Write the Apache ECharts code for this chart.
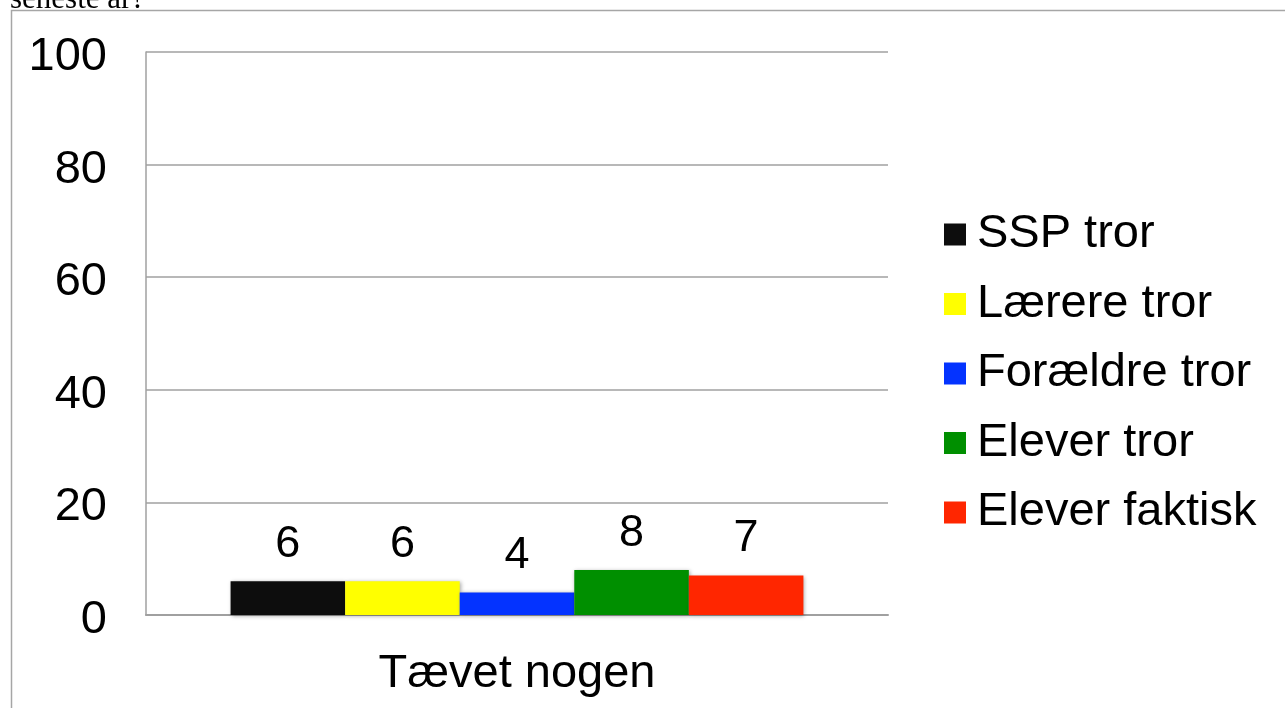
<!DOCTYPE html>
<html><head><meta charset="utf-8">
<script src="https://cdn.jsdelivr.net/npm/echarts@6/dist/echarts.min.js"></script>
<style>html,body{margin:0;padding:0;background:#fff;}#c{width:1285px;height:708px;}</style>
</head><body><div id="c"></div>
<script>
const categories = ['Tævet nogen'];
const seriesNames = ['SSP tror', 'Lærere tror', 'Forældre tror', 'Elever tror', 'Elever faktisk'];
const seriesValues = [[6], [6], [4], [8], [7]];
const colors = ['#0d0d0d', '#ffff00', '#0433ff', '#008f00', '#ff2600'];
const yTicks = [0, 20, 40, 60, 80, 100];

const chart = echarts.init(document.getElementById('c'));
const font = '"Liberation Sans", Arial, Helvetica, sans-serif';
chart.setOption({
  animation: false,
  color: colors,
  textStyle: { fontFamily: font },
  graphic: [
    { type: 'rect', shape: { x: 11.5, y: 10.5, width: 1300, height: 720 }, style: { fill: 'none', stroke: '#a6a6a6', lineWidth: 1.5 }, silent: true },
    { type: 'text', x: 10, y: 15, style: { text: 'seneste år?', font: '31px "Liberation Serif", "Times New Roman", serif', fill: '#000', verticalAlign: 'bottom' } }
  ],
  grid: { left: 146, top: 52, width: 742, height: 563, containLabel: false },
  legend: {
    orient: 'vertical', left: 939, top: 206,
    itemWidth: 22, itemHeight: 22, itemGap: 22.5,
    icon: 'rect',
    textStyle: { fontSize: 47, color: '#000', fontFamily: font, padding: [0, 0, 0, 6] },
    data: seriesNames
  },
  xAxis: {
    type: 'category', data: categories,
    axisLine: { lineStyle: { color: '#a0a0a0', width: 2 } },
    axisTick: { show: false },
    axisLabel: { fontSize: 47, color: '#000', margin: 36, fontFamily: font }
  },
  yAxis: {
    type: 'value', min: 0, max: 100, interval: 20,
    axisLine: { show: true, lineStyle: { color: '#a0a0a0', width: 1.5 } },
    axisTick: { show: false },
    splitLine: { lineStyle: { color: '#a0a0a0', width: 1.5 } },
    axisLabel: { color: '#000', margin: 39,
      formatter: v => yTicks.includes(v) ? '{a|' + v + '}' : '',
      rich: { a: { fontSize: 47, color: '#000', fontFamily: font, padding: [10, 0, 0, 0] } } }
  },
  series: seriesNames.map((n, i) => ({
    name: n, type: 'bar', data: seriesValues[i],
    barGap: '0%', barCategoryGap: '22.8%',
    itemStyle: { color: colors[i], shadowColor: 'rgba(0,0,0,0.35)', shadowBlur: 4, shadowOffsetX: 1, shadowOffsetY: 1 },
    label: { show: true, position: 'top', distance: 14, fontSize: 45, color: '#000', fontFamily: font }
  }))
});
</script></body></html>
